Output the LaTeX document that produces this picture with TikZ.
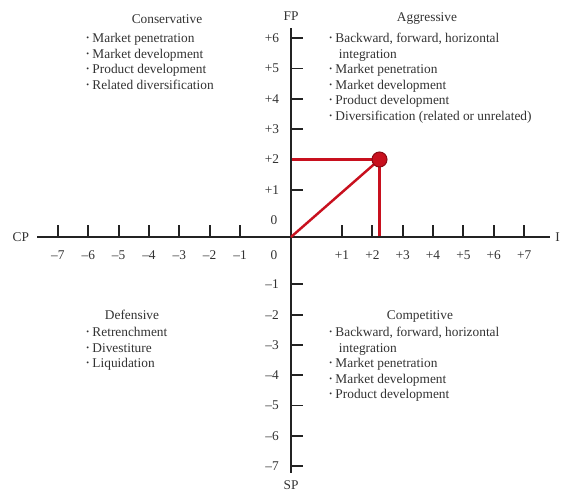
\documentclass[tikz,border=0pt]{standalone}
\usepackage{fontspec}
\setmainfont{Liberation Serif}
\usepackage{tikz}
\usetikzlibrary{positioning}
\definecolor{axisK}{RGB}{35,35,35}
\definecolor{txtG}{RGB}{50,50,50}
\definecolor{ptRed}{RGB}{200,16,30}
\newcommand{\bul}{\raisebox{0.3ex}{\fontsize{4.5}{5}\selectfont\textbullet}\ }

\begin{document}
\begin{tikzpicture}[x=0.02cm,y=-0.02cm, every node/.style={font=\fontsize{7.6}{8.8}\selectfont, text=txtG},
  tick/.style={line width=1.1pt, axisK},
  quad/.style={anchor=north west, align=left, inner sep=0pt},
  redline/.style={line width=1.4pt, color=ptRed}]
  \useasboundingbox (0,0) rectangle (561,494);
  % origin at pixel (291,237); one unit is 30.35 px, first tick pushed out by the gap
  \coordinate (O) at (291,237);
  \coordinate (xl) at (37,237);
  \coordinate (xr) at (550,237);
  \coordinate (yt) at (291,28);
  \coordinate (yb) at (291,473);

  % axes
  \draw[line width=1.1pt, axisK] (xl) -- (xr);
  \draw[line width=1.1pt, axisK] (yt) -- (yb);
  \node[left=1pt of xl] (cp) {CP};
  \node[anchor=west, inner sep=0pt] (ip) at (555,237) {I};
  \node[above=1pt of yt] (fp) {FP};
  \node[below=1pt of yb] (sp) {SP};

  % horizontal ticks
  \foreach \k in {1,...,7} {
    \pgfmathsetmacro{\xr}{291+20.65+\k*30.35}
    \pgfmathsetmacro{\xl}{291-20.65-\k*30.35}
    \draw[tick] (\xr,237) -- (\xr,225);
    \draw[tick] (\xl,237) -- (\xl,225);
    \node at (\xr,255) {+\k};
    \node at (\xl,255) {--\k};
  }
  % vertical ticks
  \foreach \k in {1,...,6} {
    \pgfmathsetmacro{\yy}{237-17-\k*30.3}
    \draw[tick] (291,\yy) -- (303,\yy);
    \node at (272,\yy) {+\k};
  }
  \foreach \k in {1,...,7} {
    \pgfmathsetmacro{\yy}{237+17+\k*30.3}
    \draw[tick] (291,\yy) -- (303,\yy);
    \node at (272,\yy) {--\k};
  }
  \node (z1) at (274,220) {0};
  \node (z2) at (274,255) {0};

  % the direction vector
  \coordinate (vec) at (379.5,159.5);
  \coordinate (vecFP) at (292,159.5);
  \coordinate (vecIP) at (379.5,236);
  \draw[redline] (vec) -- (vecFP);
  \draw[redline] (vec) -- (vecIP);
  \draw[redline] (O) -- (vec);
  \node[circle, fill=ptRed, draw=ptRed!70!black, line width=0.6pt, minimum size=0.3cm, inner sep=0pt] (dot) at (vec) {};

  % quadrants
  \node (cons) at (167,19) {Conservative};
  \node[quad] (consL) at (86,33) {\bul Market penetration\\ \bul Market development\\ \bul Product development\\ \bul Related diversification};
  \node (aggr) at (427,19) {Aggressive};
  \node[quad] (aggrL) at (329,33) {\bul Backward, forward, horizontal\\ \phantom{\bul}\hspace{2pt}integration\\ \bul Market penetration\\ \bul Market development\\ \bul Product development\\ \bul Diversification (related or unrelated)};
  \node (defn) at (132,315) {Defensive};
  \node[quad] (defnL) at (86,327) {\bul Retrenchment\\ \bul Divestiture\\ \bul Liquidation};
  \node (comp) at (420,316) {Competitive};
  \node[quad] (compL) at (329,327) {\bul Backward, forward, horizontal\\ \phantom{\bul}\hspace{2pt}integration\\ \bul Market penetration\\ \bul Market development\\ \bul Product development};
\end{tikzpicture}
\end{document}
